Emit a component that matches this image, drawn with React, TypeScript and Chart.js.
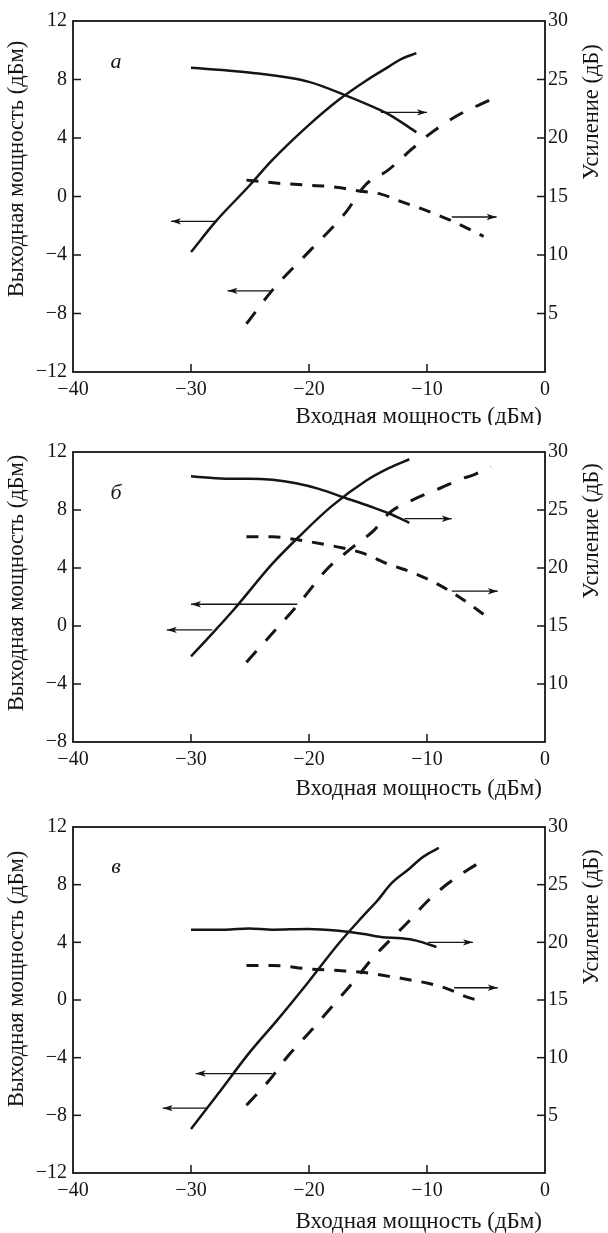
import React, { useEffect, useRef } from 'react';
import { Chart, registerables } from 'chart.js';

Chart.register(...registerables);

const SERIF = "'Liberation Serif', 'Times New Roman', serif";
const INK = '#151515';

// ---------- texts ----------
const xTitle = 'Входная мощность (дБм)';
const leftTitle = 'Выходная мощность (дБм)';
const rightTitle = 'Усиление (дБ)';
const panelLetters = ['а', 'б', 'в'];

// ---------- axes ----------
const xRange = [-40, 0];
const xStep = 10;
const leftStep = 4;
const rightStep = 5;
const aLeftRange = [-12, 12];
const aRightRange = [0, 30];
const bLeftRange = [-8, 12];
const bRightRange = [5, 30];
const cLeftRange = [-12, 12];
const cRightRange = [0, 30];

// ---------- panel а ----------
const aOutSolidX = [-30, -27.9, -25.1, -23.1, -20, -17.5, -15.2, -13.2, -12.2, -10.9];
const aOutSolidY = [-3.8, -1.7, 0.7, 2.5, 4.9, 6.6, 7.9, 8.9, 9.4, 9.8];
const aGainSolidX = [-30, -25.1, -20, -16.8, -14.0, -13.2, -10.9];
const aGainSolidY = [26.0, 25.6, 24.8, 23.6, 22.4, 22.0, 20.5];
const aOutDashX = [-25.3, -23.1, -19.8, -16.9, -15.2, -13.3, -11.9, -9.9, -7.5, -4.4];
const aOutDashY = [-8.7, -6.4, -3.6, -1.1, 0.8, 1.8, 2.8, 4.2, 5.5, 6.7];
const aGainDashX = [-25.3, -22.2, -20.6, -17.7, -15.9, -13.9, -12.3, -10.2, -8.1, -5.2];
const aGainDashY = [16.4, 16.1, 16.0, 15.8, 15.5, 15.2, 14.6, 13.85, 13.0, 11.6];
const aArrowFrom = [-27.9, -23.1, -13.9, -7.9];
const aArrowTo = [-31.7, -26.9, -10.0, -4.1];
const aArrowY = [-1.7, -6.45, 5.75, -1.4];

// ---------- panel б ----------
const bOutSolidX = [-30, -28.4, -26.4, -23.1, -20.8, -18.1, -15.2, -13.2, -11.5];
const bOutSolidY = [-2.1, -0.7, 1.1, 4.3, 6.2, 8.25, 10.0, 10.9, 11.5];
const bGainSolidX = [-30, -27.1, -25.1, -23.1, -21.1, -19.1, -17.1, -14.8, -13.2, -11.5];
const bGainSolidY = [27.9, 27.7, 27.7, 27.6, 27.3, 26.8, 26.1, 25.3, 24.7, 23.9];
const bOutDashX = [-25.3, -23.1, -20.8, -18.5, -16.5, -14.5, -13.2, -11.2, -8.9, -6.9, -6.1, -4.6];
const bOutDashY = [-2.5, -0.5, 1.6, 3.9, 5.3, 6.6, 7.8, 8.7, 9.5, 10.2, 10.4, 11.0];
const bGainDashX = [-25.3, -23.1, -21.1, -17.5, -15.5, -13.2, -11.2, -8.9, -6.9, -5.2];
const bGainDashY = [22.7, 22.7, 22.45, 21.8, 21.3, 20.3, 19.6, 18.5, 17.25, 16.0];
const bArrowFrom = [-21.0, -28.2, -11.9, -7.9];
const bArrowTo = [-30.0, -32.05, -7.9, -4.0];
const bArrowY = [1.5, -0.27, 7.4, 2.4];

// ---------- panel в ----------
const cOutSolidX = [-30, -27.7, -25.1, -22.8, -20.1, -17.5, -15.5, -14.2, -13.0, -11.5, -10.7, -9.9, -9.0];
const cOutSolidY = [-8.95, -6.5, -3.7, -1.5, 1.2, 3.9, 5.75, 6.9, 8.1, 9.1, 9.7, 10.15, 10.55];
const cGainSolidX = [-30, -27.1, -25.1, -23.1, -20.1, -17.5, -15.5, -13.8, -12.2, -10.9, -9.2];
const cGainSolidY = [21.1, 21.1, 21.2, 21.1, 21.15, 21.0, 20.75, 20.45, 20.35, 20.15, 19.6];
const cOutDashX = [-25.3, -23.4, -21.8, -19.8, -18.1, -16.3, -14.5, -13.2, -11.5, -9.9, -8.2, -6.6, -5.2];
const cOutDashY = [-7.3, -5.6, -3.9, -2.1, -0.5, 1.2, 3.0, 4.1, 5.5, 6.9, 8.1, 9.0, 9.7];
const cGainDashX = [-25.3, -23.1, -20.1, -17.5, -15.5, -13.2, -11.2, -9.9, -8.2, -6.6, -5.2];
const cGainDashY = [18.0, 18.0, 17.7, 17.55, 17.4, 17.05, 16.7, 16.45, 15.95, 15.25, 14.85];
const cArrowFrom = [-23.1, -28.7, -9.9, -7.7];
const cArrowTo = [-29.6, -32.4, -6.1, -4.0];
const cArrowY = [-5.1, -7.5, 4.0, 0.85];

const zip = (xs: number[], ys: number[]) => xs.map((x, i) => ({ x, y: ys[i] }));
const fmt = (v: any) => String(v).replace('-', '\u2212');

const decorPlugin = {
  id: 'decor',
  afterDatasetsDraw(chart: any) {
    const { ctx } = chart;
    ctx.save();
    ctx.fillStyle = INK;
    chart.data.datasets.forEach((ds: any, i: number) => {
      if (!ds.isArrow) return;
      const pts = chart.getDatasetMeta(i).data;
      const p0 = pts[0];
      const p1 = pts[pts.length - 1];
      const ang = Math.atan2(p1.y - p0.y, p1.x - p0.x);
      const L = 10;
      const W = 3.2;
      const c = Math.cos(ang);
      const s = Math.sin(ang);
      ctx.beginPath();
      ctx.moveTo(p1.x, p1.y);
      ctx.lineTo(p1.x - L * c - W * s, p1.y - L * s + W * c);
      ctx.lineTo(p1.x - L * 0.75 * c, p1.y - L * 0.75 * s);
      ctx.lineTo(p1.x - L * c + W * s, p1.y - L * s - W * c);
      ctx.closePath();
      ctx.fill();
    });
    ctx.restore();
  },
  afterDraw(chart: any, _a: any, o: any) {
    const { ctx, chartArea: ca, scales } = chart;
    ctx.save();
    ctx.strokeStyle = INK;
    ctx.lineWidth = 1.8;
    ctx.strokeRect(ca.left, ca.top, ca.right - ca.left, ca.bottom - ca.top);
    ctx.lineWidth = 1.5;
    const seg = (x1: number, y1: number, x2: number, y2: number) => {
      ctx.beginPath();
      ctx.moveTo(x1, y1);
      ctx.lineTo(x2, y2);
      ctx.stroke();
    };
    const inner = (sc: any) =>
      sc.ticks.map((t: any) => t.value).filter((v: number) => v > sc.min && v < sc.max);
    const tl = o.tickLen;
    inner(scales.y).forEach((v: number) => {
      const p = scales.y.getPixelForValue(v);
      seg(ca.left, p, ca.left + tl, p);
    });
    inner(scales.y2).forEach((v: number) => {
      const p = scales.y2.getPixelForValue(v);
      seg(ca.right, p, ca.right - tl, p);
    });
    inner(scales.x).forEach((v: number) => {
      const p = scales.x.getPixelForValue(v);
      seg(p, ca.bottom, p, ca.bottom - tl);
    });

    ctx.fillStyle = INK;
    ctx.textBaseline = 'middle';
    ctx.font = `23px ${SERIF}`;
    ctx.textAlign = 'right';
    ctx.fillText(o.xTitle, ca.right - 3, ca.bottom + o.xTitleDy);

    ctx.font = `22.5px ${SERIF}`;
    ctx.textAlign = 'center';
    ctx.save();
    ctx.translate(ca.left - 56, ca.top + o.leftTitleC);
    ctx.rotate(-Math.PI / 2);
    ctx.fillText(o.leftTitle, 0, 0);
    ctx.restore();

    ctx.save();
    ctx.translate(ca.right + 47, ca.top + o.rightTitleC);
    ctx.rotate(-Math.PI / 2);
    ctx.fillText(o.rightTitle, 0, 0);
    ctx.restore();

    ctx.font = `italic 22px ${SERIF}`;
    ctx.fillText(o.letter, ca.left + 43, ca.top + o.letterDy);
    ctx.restore();
  },
};

type PanelSpec = {
  letter: string;
  leftRange: number[];
  rightRange: number[];
  outSolid: { x: number; y: number }[];
  gainSolid: { x: number; y: number }[];
  outDash: { x: number; y: number }[];
  gainDash: { x: number; y: number }[];
  arrowFrom: number[];
  arrowTo: number[];
  arrowY: number[];
  top: number;
  height: number;
  plotTop: number;
  plotBottom: number;
  leftTitleC: number;
  rightTitleC: number;
  xTitleDy: number;
  letterDy: number;
};

const panels: PanelSpec[] = [
  {
    letter: panelLetters[0], leftRange: aLeftRange, rightRange: aRightRange,
    outSolid: zip(aOutSolidX, aOutSolidY), gainSolid: zip(aGainSolidX, aGainSolidY),
    outDash: zip(aOutDashX, aOutDashY), gainDash: zip(aGainDashX, aGainDashY),
    arrowFrom: aArrowFrom, arrowTo: aArrowTo, arrowY: aArrowY,
    top: 0, height: 425, plotTop: 21, plotBottom: 372,
    leftTitleC: 148, rightTitleC: 91, xTitleDy: 45, letterDy: 41,
  },
  {
    letter: panelLetters[1], leftRange: bLeftRange, rightRange: bRightRange,
    outSolid: zip(bOutSolidX, bOutSolidY), gainSolid: zip(bGainSolidX, bGainSolidY),
    outDash: zip(bOutDashX, bOutDashY), gainDash: zip(bGainDashX, bGainDashY),
    arrowFrom: bArrowFrom, arrowTo: bArrowTo, arrowY: bArrowY,
    top: 425, height: 375, plotTop: 452, plotBottom: 742,
    leftTitleC: 131, rightTitleC: 79, xTitleDy: 47, letterDy: 41,
  },
  {
    letter: panelLetters[2], leftRange: cLeftRange, rightRange: cRightRange,
    outSolid: zip(cOutSolidX, cOutSolidY), gainSolid: zip(cGainSolidX, cGainSolidY),
    outDash: zip(cOutDashX, cOutDashY), gainDash: zip(cGainDashX, cGainDashY),
    arrowFrom: cArrowFrom, arrowTo: cArrowTo, arrowY: cArrowY,
    top: 800, height: 433, plotTop: 827, plotBottom: 1173,
    leftTitleC: 152, rightTitleC: 90, xTitleDy: 49, letterDy: 40,
  },
];

function buildConfig(p: PanelSpec): any {
  const curve = (data: any[], axis: string, dash: number[], width: number) => ({
    data,
    yAxisID: axis,
    borderColor: INK,
    backgroundColor: INK,
    borderWidth: width,
    borderDash: dash,
    borderCapStyle: 'butt',
    pointRadius: 0,
    cubicInterpolationMode: 'monotone',
    fill: false,
  });
  const arrows = p.arrowFrom.map((f, i) => ({
    isArrow: true,
    data: [
      { x: f, y: p.arrowY[i] },
      { x: p.arrowTo[i], y: p.arrowY[i] },
    ],
    yAxisID: 'y',
    borderColor: INK,
    borderWidth: 1.3,
    pointRadius: 0,
    tension: 0,
    fill: false,
  }));
  const tickFont = { family: SERIF, size: 20 };
  return {
    type: 'line',
    data: {
      datasets: [
        curve(p.outSolid, 'y', [], 2.5),
        curve(p.gainSolid, 'y2', [], 2.5),
        curve(p.outDash, 'y', [15, 14], 3),
        curve(p.gainDash, 'y2', [12, 10], 3),
        ...arrows,
      ],
    },
    options: {
      responsive: false,
      animation: false,
      devicePixelRatio: 1,
      layout: { padding: { top: p.plotTop - p.top, left: 0, right: 0, bottom: 0 } },
      plugins: {
        legend: { display: false },
        tooltip: { enabled: false },
        decor: {
          tickLen: 8,
          xTitle,
          leftTitle,
          rightTitle,
          letter: p.letter,
          leftTitleC: p.leftTitleC,
          rightTitleC: p.rightTitleC,
          xTitleDy: p.xTitleDy,
          letterDy: p.letterDy,
        },
      },
      scales: {
        x: {
          type: 'linear',
          min: xRange[0],
          max: xRange[1],
          ticks: { stepSize: xStep, font: tickFont, color: INK, padding: 6, maxRotation: 0, callback: fmt },
          grid: { display: false, drawTicks: false },
          border: { display: false },
          afterFit: (s: any) => {
            s.height = p.height - (p.plotBottom - p.top);
          },
        },
        y: {
          type: 'linear',
          position: 'left',
          min: p.leftRange[0],
          max: p.leftRange[1],
          ticks: { stepSize: leftStep, font: tickFont, color: INK, padding: 6, callback: fmt },
          grid: { display: false, drawTicks: false },
          border: { display: false },
          afterFit: (s: any) => {
            s.width = 73;
          },
        },
        y2: {
          type: 'linear',
          position: 'right',
          min: p.rightRange[0],
          max: p.rightRange[1],
          ticks: {
            stepSize: rightStep,
            font: tickFont,
            color: INK,
            padding: 3,
            callback: (v: any, i: number) => (i === 0 ? '' : fmt(v)),
          },
          grid: { display: false, drawTicks: false },
          border: { display: false },
          afterFit: (s: any) => {
            s.width = 63;
          },
        },
      },
    },
    plugins: [decorPlugin],
  };
}

function Panel({ spec }: { spec: PanelSpec }) {
  const ref = useRef<HTMLCanvasElement | null>(null);
  useEffect(() => {
    if (!ref.current) return;
    const chart = new Chart(ref.current, buildConfig(spec));
    return () => chart.destroy();
  }, [spec]);
  return (
    <canvas
      ref={ref}
      width={608}
      height={spec.height}
      style={{ position: 'absolute', left: 0, top: spec.top, width: 608, height: spec.height, display: 'block' }}
    />
  );
}

export default function App() {
  return (
    <div style={{ position: 'absolute', left: 0, top: 0, width: 608, height: 1233, background: '#fff' }}>
      {panels.map((p, i) => (
        <Panel key={i} spec={p} />
      ))}
    </div>
  );
}
